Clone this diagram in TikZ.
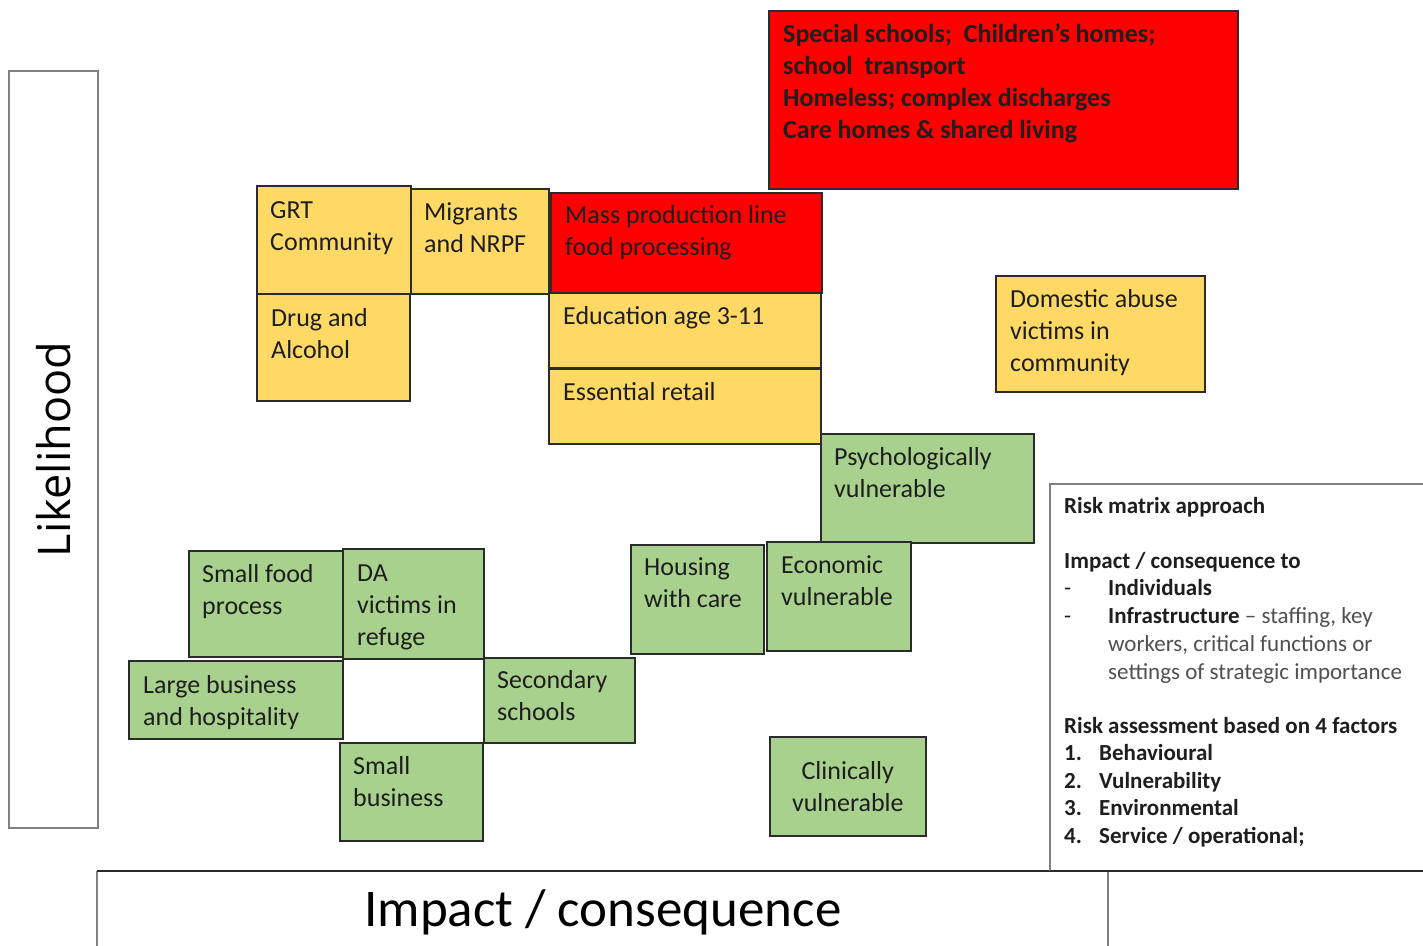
\documentclass[tikz,border=0pt]{standalone}
\usepackage{fontspec}
\setmainfont{Carlito}
\newfontfamily\axisfont{Open Sans}
\definecolor{cellyellow}{HTML}{FFD966}
\definecolor{cellgreen}{HTML}{A9D18E}
\definecolor{cellred}{HTML}{FF0000}
\definecolor{edgecol}{HTML}{2B2B2B}
\definecolor{framecol}{HTML}{808080}
\definecolor{inkcol}{HTML}{1E1E1E}
\definecolor{greyink}{HTML}{505050}
\tikzset{
  cell/.style={draw=edgecol, line width=1.6pt, inner sep=0pt, anchor=north west},
  yel/.style={cell, fill=cellyellow},
  grn/.style={cell, fill=cellgreen},
  rd/.style={cell, fill=cellred},
  lbl/.style={inner sep=0pt, anchor=base west, text=inkcol,
    font=\fontsize{26}{32}\selectfont},
  risk/.style={inner sep=0pt, anchor=base west, text=inkcol,
    font=\fontsize{23}{28}\selectfont},
  axis/.style={inner sep=0pt, text=black},
  framebox/.style={draw=framecol, line width=2pt},
}
\begin{document}
\begin{tikzpicture}[x=1pt,y=-1pt]
\useasboundingbox[fill=white] (0,0) rectangle (1423,945);

% axis frames
\node[framebox, inner sep=0pt, anchor=north west, minimum width=89pt, minimum height=757pt] (likebox) at (8,70) {};
\node[axis, rotate=90, font=\axisfont\fontsize{45}{54}\selectfont] (liketxt) at (likebox.center) {Likelihood};

\coordinate (impBL) at (97,946);
\coordinate (impTL) at (97,871);
\coordinate (impTR) at (1108,871);
\coordinate (impBR) at (1108,946);
\draw[framebox] (impBL) -- (impTL);
\draw[draw=edgecol, line width=1.6pt] (impTL) -- (impTR);
\draw[framebox] (impTR) -- (impBR);
\node[axis, font=\fontsize{53}{60}\selectfont] (imptxt) at (603,912) {Impact / consequence};

% risk matrix box
\coordinate (rTR) at (1424,484);
\coordinate (rTL) at (1050,484);
\coordinate (rBL) at (1050,871);
\coordinate (rBR) at (1424,871);
\draw[framebox] (rTR) -- (rTL) -- (rBL);
\draw[draw=edgecol, line width=1.6pt] (rBL) -- (rBR);

% cells
\node[rd,  minimum width=469pt, minimum height=178pt] (redtop) at (768,10) {};
\node[yel, minimum width=154pt, minimum height=108pt] (grt) at (256,185) {};
\node[yel, minimum width=138pt, minimum height=105pt] (mig) at (410,188) {};
\node[rd,  minimum width=271pt, minimum height=100pt] (mass) at (550,192) {};
\node[yel, minimum width=153pt, minimum height=107pt] (drug) at (256,293) {};
\node[yel, minimum width=272pt, minimum height=75pt] (edu) at (548,292) {};
\node[yel, minimum width=272pt, minimum height=75pt] (ret) at (548,368) {};
\node[yel, minimum width=209pt, minimum height=116pt] (dom) at (995,275) {};
\node[grn, minimum width=213pt, minimum height=109pt] (psy) at (820,433) {};
\node[grn, minimum width=154pt, minimum height=106pt] (sfood) at (188,550) {};
\node[grn, minimum width=141pt, minimum height=110pt] (da) at (342,548) {};
\node[grn, minimum width=133pt, minimum height=109pt] (hous) at (630,544) {};
\node[grn, minimum width=144pt, minimum height=109pt] (econ) at (766,541) {};
\node[grn, minimum width=214pt, minimum height=78pt] (large) at (128,660) {};
\node[grn, minimum width=151pt, minimum height=85pt] (sec) at (483,657) {};
\node[grn, minimum width=143pt, minimum height=98pt] (sbus) at (339,742) {};
\node[grn, minimum width=156pt, minimum height=99pt] (clin) at (769,736) {};

% cell texts
\node[lbl, font=\bfseries\fontsize{26}{32}\selectfont] (redtop-t) at ([xshift=15pt,yshift=-32pt]redtop.north west)
  {\parbox[t]{450pt}{Special schools;\ \ Children’s homes;\\school\ \ transport\\Homeless; complex discharges\\Care homes \& shared living}};
\node[lbl] (grt-t) at ([xshift=14pt,yshift=-33pt]grt.north west) {\parbox[t]{140pt}{GRT\\Community}};
\node[lbl] (mig-t) at ([xshift=14pt,yshift=-32pt]mig.north west) {\parbox[t]{124pt}{Migrants\\and NRPF}};
\node[lbl] (mass-t) at ([xshift=15pt,yshift=-31pt]mass.north west) {\parbox[t]{255pt}{Mass production line\\food processing}};
\node[lbl] (drug-t) at ([xshift=15pt,yshift=-33pt]drug.north west) {\parbox[t]{138pt}{Drug and\\Alcohol}};
\node[lbl] (edu-t) at ([xshift=15pt,yshift=-32pt]edu.north west) {Education age 3-11};
\node[lbl] (ret-t) at ([xshift=15pt,yshift=-32pt]ret.north west) {Essential retail};
\node[lbl] (dom-t) at ([xshift=15pt,yshift=-32pt]dom.north west) {\parbox[t]{194pt}{Domestic abuse\\victims in\\community}};
\node[lbl] (psy-t) at ([xshift=14pt,yshift=-32pt]psy.north west) {\parbox[t]{199pt}{Psychologically\\vulnerable}};
\node[lbl] (sfood-t) at ([xshift=14pt,yshift=-32pt]sfood.north west) {\parbox[t]{140pt}{Small food\\process}};
\node[lbl] (da-t) at ([xshift=15pt,yshift=-33pt]da.north west) {\parbox[t]{126pt}{DA\\victims in\\refuge}};
\node[lbl] (hous-t) at ([xshift=14pt,yshift=-31pt]hous.north west) {\parbox[t]{119pt}{Housing\\with care}};
\node[lbl] (econ-t) at ([xshift=15pt,yshift=-32pt]econ.north west) {\parbox[t]{129pt}{Economic\\vulnerable}};
\node[lbl] (large-t) at ([xshift=15pt,yshift=-33pt]large.north west) {\parbox[t]{199pt}{Large business\\and hospitality}};
\node[lbl] (sec-t) at ([xshift=14pt,yshift=-31pt]sec.north west) {\parbox[t]{137pt}{Secondary\\schools}};
\node[lbl] (sbus-t) at ([xshift=14pt,yshift=-32pt]sbus.north west) {\parbox[t]{129pt}{Small\\business}};
\node[lbl, anchor=base] (clin-t) at ([yshift=-43pt]clin.north) {\parbox[t]{140pt}{\centering Clinically\\vulnerable}};

% risk matrix text
\node[risk] (r1) at (1064,513) {\textbf{Risk matrix approach}};
\node[risk] (r2) at (1064,568) {\textbf{Impact / consequence to}};
\node[risk] (r3d) at (1064,595) {-};
\node[risk] (r3) at (1108,595) {\textbf{Individuals}};
\node[risk] (r4d) at (1064,623) {-};
\node[risk] (r4) at (1108,623) {\textbf{Infrastructure} \textcolor{greyink}{– staffing, key}};
\node[risk, text=greyink] (r5) at (1108,651) {workers, critical functions or};
\node[risk, text=greyink] (r6) at (1108,679) {settings of strategic importance};
\node[risk] (r7) at (1064,733) {\textbf{Risk assessment based on 4 factors}};
\node[risk] (r8n) at (1064,760) {\textbf{1.}};
\node[risk] (r8) at (1099,760) {\textbf{Behavioural}};
\node[risk] (r9n) at (1064,788) {\textbf{2.}};
\node[risk] (r9) at (1099,788) {\textbf{Vulnerability}};
\node[risk] (r10n) at (1064,815) {\textbf{3.}};
\node[risk] (r10) at (1099,815) {\textbf{Environmental}};
\node[risk] (r11n) at (1064,843) {\textbf{4.}};
\node[risk] (r11) at (1099,843) {\textbf{Service / operational;}};
\end{tikzpicture}
\end{document}
